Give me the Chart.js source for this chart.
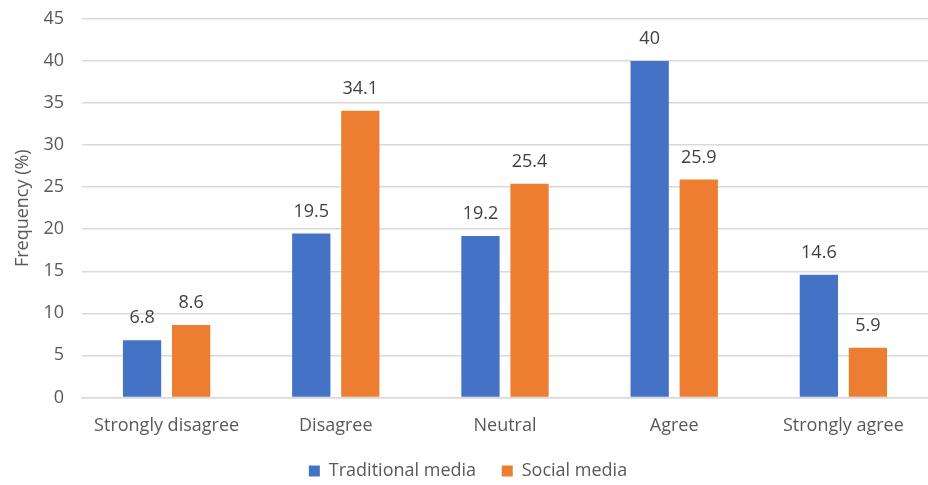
<!DOCTYPE html>
<html>
<head>
<meta charset="utf-8">
<script src="https://cdn.jsdelivr.net/npm/chart.js@4"></script>
<style>
  html, body { margin: 0; padding: 0; background: #fff; }
  #wrap { width: 928px; height: 485px; }
</style>
</head>
<body>
<div id="wrap"><canvas id="chart_1"></canvas></div>
<script>
const categories = ["Strongly disagree", "Disagree", "Neutral", "Agree", "Strongly agree"];
const traditional_media = [6.8, 19.5, 19.2, 40, 14.6];
const social_media = [8.6, 34.1, 25.4, 25.9, 5.9];
const series_labels = ["Traditional media", "Social media"];
const y_ticks = [0, 5, 10, 15, 20, 25, 30, 35, 40, 45];

const font_family = "'Open Sans', 'Noto Sans', sans-serif";

// value labels above each bar
const value_labels = {
  id: 'value_labels',
  afterDatasetsDraw(chart) {
    const ctx = chart.ctx;
    ctx.save();
    ctx.font = `18px ${font_family}`;
    ctx.fillStyle = '#404040';
    ctx.textAlign = 'center';
    ctx.textBaseline = 'middle';
    chart.data.datasets.forEach(function(ds, i) {
      chart.getDatasetMeta(i).data.forEach(function(bar, j) {
        ctx.fillText(String(ds.data[j]), bar.x, bar.y - 22);
      });
    });
    ctx.restore();
  }
};

const ctx = document.getElementById('chart_1').getContext('2d');
const chart = new Chart(ctx, {
  type: 'bar',
  data: {
    labels: categories,
    datasets: [{
      label: series_labels[0],
      data: traditional_media,
      backgroundColor: '#4472c4',
      categoryPercentage: 0.58,
      barPercentage: 0.78
    }, {
      label: series_labels[1],
      data: social_media,
      backgroundColor: '#ed7d31',
      categoryPercentage: 0.58,
      barPercentage: 0.78
    }]
  },
  options: {
    responsive: true,
    maintainAspectRatio: false,
    animation: false,
    layout: { padding: { top: 19, right: 0, left: 8, bottom: -5 } },
    plugins: {
      tooltip: { enabled: false },
      legend: {
        position: 'bottom',
        labels: {
          boxWidth: 11,
          boxHeight: 11,
          padding: 7,
          color: '#595959',
          font: { family: font_family, size: 18 },
          // wider gap between the two legend items
          generateLabels(chart) {
            const items = Chart.defaults.plugins.legend.labels.generateLabels(chart);
            items[0].text = items[0].text + '    ';
            return items;
          }
        }
      }
    },
    scales: {
      x: {
        grid: { display: false, drawTicks: false },
        border: { display: true, color: '#d9d9d9', width: 1.5 },
        ticks: { color: '#595959', padding: 18, font: { family: font_family, size: 18 } }
      },
      y: {
        min: 0,
        max: 45,
        afterBuildTicks(axis) { axis.ticks = y_ticks.map(v => ({ value: v })); },
        afterFit(axis) { axis.width = 74; },
        grid: { color: '#d9d9d9', lineWidth: 1.5, drawTicks: true, tickLength: 18, tickColor: 'rgba(0,0,0,0)' },
        border: { display: false },
        ticks: { color: '#595959', padding: 0, font: { family: font_family, size: 18, lineHeight: 1 } },
        title: {
          display: true,
          text: 'Frequency (%)',
          color: '#595959',
          font: { family: font_family, size: 18 },
          padding: { bottom: 0 }
        }
      }
    }
  },
  plugins: [value_labels]
});
</script>
</body>
</html>
